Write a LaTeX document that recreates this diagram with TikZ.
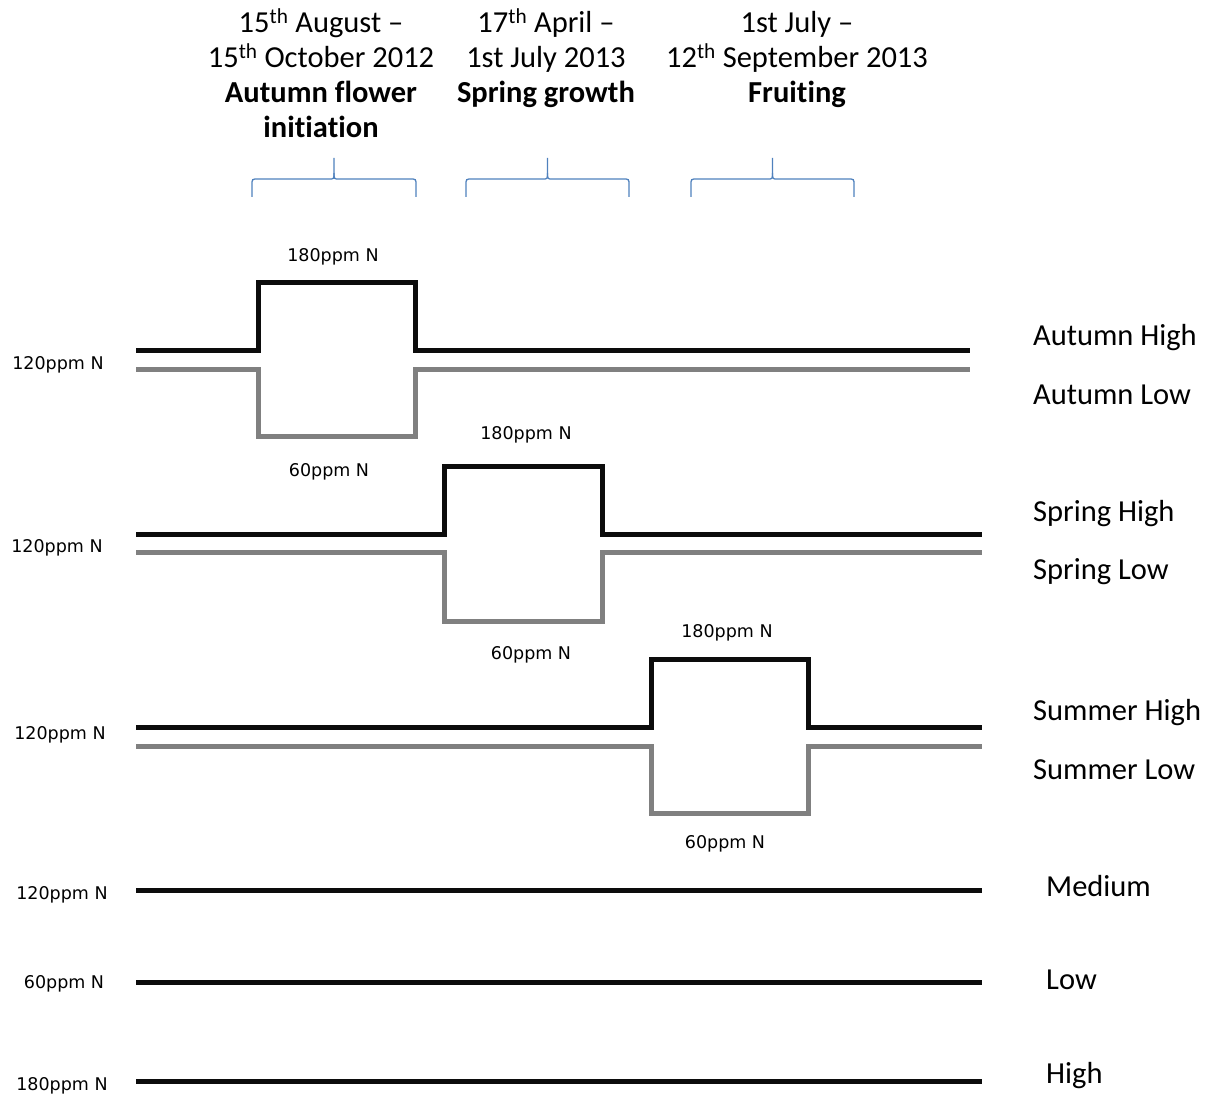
\documentclass[tikz,border=0pt]{standalone}
\usepackage{fontspec}
\setmainfont{Carlito}[Ligatures=NoCommon]
\newfontfamily\smallfont{DejaVu Sans}
\definecolor{bracecol}{RGB}{79,129,189}
\definecolor{hicol}{RGB}{12,12,12}
\definecolor{locol}{RGB}{128,128,128}
\begin{document}
\begin{tikzpicture}[x=1pt,y=-1pt,
  hi/.style={draw=hicol, line width=5pt},
  lo/.style={draw=locol, line width=5pt},
  bracestyle/.style={draw=bracecol, line width=1.3pt},
  hdr/.style={font=\fontsize{30.5}{35}\selectfont, anchor=base, inner sep=0pt},
  hdrb/.style={font=\bfseries\fontsize{30.5}{35}\selectfont, anchor=base, inner sep=0pt},
  grp/.style={font=\fontsize{30.5}{35}\selectfont, anchor=base west, inner sep=0pt},
  ppm/.style={font=\smallfont\fontsize{17.5}{20}\selectfont, inner sep=0pt}]
\useasboundingbox (0,0) rectangle (1211,1094);

% headers
\node[hdr] (h1a) at (321,33) {15\textsuperscript{th} August --};
\node[hdr] (h1b) at (321,68) {15\textsuperscript{th} October 2012};
\node[hdrb] (h1c) at (321,103) {Autumn flower};
\node[hdrb] (h1d) at (321,138) {initiation};
\node[hdr] (h2a) at (546,33) {17\textsuperscript{th} April --};
\node[hdr] (h2b) at (546,68) {1st July 2013};
\node[hdrb] (h2c) at (546,103) {Spring growth};
\node[hdr] (h3a) at (797,33) {1st July --};
\node[hdr] (h3b) at (797,68) {12\textsuperscript{th} September 2013};
\node[hdrb] (h3c) at (797,103) {Fruiting};

% braces
\foreach \l/\r in {252/416, 466/629, 691/854}{
  \pgfmathsetmacro{\m}{(\l+\r)/2}
  \draw[bracestyle] (\l,197) -- (\l,185) .. controls (\l,179) .. ({\l+6},179)
     -- ({\m-5},179) .. controls (\m,179) .. (\m,173) -- (\m,158);
  \draw[bracestyle] (\r,197) -- (\r,185) .. controls (\r,179) .. ({\r-6},179)
     -- ({\m+5},179) .. controls (\m,179) .. (\m,173);
}

% Autumn
\draw[hi] (136,350) -- (258,350) -- (258,283) -- (415,283) -- (415,350) -- (970,350);
\draw[lo] (136,369) -- (258,369) -- (258,436) -- (415,436) -- (415,369) -- (970,369);
\node[ppm] (a180) at (333,257) {180ppm N};
\node[ppm] (a60) at (329,472) {60ppm N};
\node[ppm] (a120) at (58,365) {120ppm N};
\node[grp] (ahi) at (1033,345) {Autumn High};
\node[grp] (alo) at (1033,404) {Autumn Low};

% Spring
\draw[hi] (136,534) -- (444,534) -- (444,466) -- (602,466) -- (602,534) -- (982,534);
\draw[lo] (136,552) -- (444,552) -- (444,621) -- (602,621) -- (602,552) -- (982,552);
\node[ppm] (s180) at (526,435) {180ppm N};
\node[ppm] (s60) at (531,655) {60ppm N};
\node[ppm] (s120) at (57,548) {120ppm N};
\node[grp] (shi) at (1033,521) {Spring High};
\node[grp] (slo) at (1033,579) {Spring Low};

% Summer
\draw[hi] (136,727) -- (651,727) -- (651,659) -- (808,659) -- (808,727) -- (982,727);
\draw[lo] (136,746) -- (651,746) -- (651,813) -- (808,813) -- (808,746) -- (982,746);
\node[ppm] (u180) at (727,633) {180ppm N};
\node[ppm] (u60) at (725,844) {60ppm N};
\node[ppm] (u120) at (60,735) {120ppm N};
\node[grp] (uhi) at (1033,720) {Summer High};
\node[grp] (ulo) at (1033,779) {Summer Low};

% constant
\draw[hi] (136,890) -- (982,890);
\node[ppm] (m120) at (62,895) {120ppm N};
\node[grp] (med) at (1046,896) {Medium};
\draw[hi] (136,982) -- (982,982);
\node[ppm] (l60) at (64,984) {60ppm N};
\node[grp] (low) at (1046,989) {Low};
\draw[hi] (136,1081) -- (982,1081);
\node[ppm] (h180) at (62,1086) {180ppm N};
\node[grp] (high) at (1046,1083) {High};
\end{tikzpicture}
\end{document}
